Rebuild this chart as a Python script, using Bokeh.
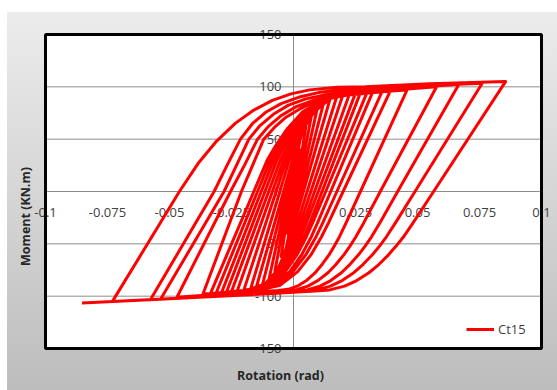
from math import pi

from bokeh.core.properties import value
from bokeh.embed import file_html
from bokeh.models import Legend, LegendItem, Range1d
from bokeh.plotting import figure
from bokeh.resources import INLINE

# Moment-rotation history of specimen Ct15, one list pair per loading cycle:
# reload towards the positive peak, then unload to the negative peak.
c01_rot = [0, 0.0012, 0.0025, 0.0003, -0.0014, -0.0019, -0.0025]
c01_mom = [0, 22, 40, 0, -30, -36, -40]

c02_rot = [-0.0003, 0.0014, 0.0017, 0.0023, 0.0030, 0.0039, 0.0050, 0.0008, -0.0012, -0.0016, -0.0022, -0.0029, -0.0039, -0.0050]
c02_mom = [0, 30, 36.6, 45, 53.4, 59.7, 62, 0, -30, -36.6, -45, -53.4, -59.7, -62]

c03_rot = [-0.0008, 0.0012, 0.0018, 0.0028, 0.0040, 0.0056, 0.0075, 0.0015, -0.0009, -0.0016, -0.0026, -0.0039, -0.0055, -0.0075]
c03_mom = [0, 30, 39.5, 51.6, 63.7, 72.7, 76, 0, -30, -39.5, -51.6, -63.7, -72.7, -76]

c04_rot = [-0.0015, 0.0009, 0.0018, 0.0032, 0.0050, 0.0073, 0.0100, 0.0022, -0.0006, -0.0015, -0.0030, -0.0048, -0.0072, -0.0100]
c04_mom = [0, 30, 41.2, 55.3, 69.5, 80.2, 84, 0, -30, -41.4, -55.8, -70.3, -81.1, -85]

c05_rot = [-0.0022, 0.0006, 0.0018, 0.0036, 0.0060, 0.0089, 0.0125, 0.0030, -0.0002, -0.0014, -0.0033, -0.0057, -0.0088, -0.0125]
c05_mom = [0, 30, 42, 57.2, 72.5, 83.9, 88, 0, -30, -42.2, -57.7, -73.2, -84.8, -89]

c06_rot = [-0.0030, 0.0002, 0.0017, 0.0039, 0.0069, 0.0106, 0.0150, 0.0040, 0.0004, -0.0011, -0.0035, -0.0065, -0.0104, -0.0150]
c06_mom = [0, 30, 42.5, 58.4, 74.3, 86.2, 90.5, 0, -30, -42.7, -58.8, -75, -87.1, -91.5]

c07_rot = [-0.0040, -0.0004, 0.0014, 0.0041, 0.0077, 0.0122, 0.0176, 0.0055, 0.0016, -0.0003, -0.0031, -0.0069, -0.0116, -0.0173]
c07_mom = [0, 30, 42.8, 59.1, 75.4, 87.6, 92, 0, -30, -43, -59.5, -76.1, -88.5, -93]

c08_rot = [-0.0055, -0.0017, 0.0005, 0.0037, 0.0081, 0.0135, 0.0200, 0.0070, 0.0028, 0.0008, -0.0021, -0.0061, -0.0110, -0.0169, -0.0200]
c08_mom = [0, 30, 43, 59.5, 76.1, 88.5, 93, 0, -30, -43.1, -59.8, -76.5, -89, -93.5, -94]

c09_rot = [-0.0070, -0.0029, -0.0004, 0.0035, 0.0086, 0.0150, 0.0226, 0.0085, 0.0040, 0.0019, -0.0013, -0.0055, -0.0108, -0.0172, -0.0227]
c09_mom = [0, 30, 43.1, 59.8, 76.5, 89, 93.5, 0, -30, -43.2, -60, -76.8, -89.5, -94, -95]

c10_rot = [-0.0085, -0.0040, -0.0014, 0.0026, 0.0079, 0.0145, 0.0224, 0.0250, 0.0100, 0.0052, 0.0030, -0.0004, -0.0049, -0.0106, -0.0173, -0.0250]
c10_mom = [0, 30, 43, 59.5, 76.1, 88.5, 93, 94, 0, -30, -43.2, -60, -76.8, -89.5, -94, -95.5]

c11_rot = [-0.0100, -0.0053, -0.0025, 0.0016, 0.0072, 0.0141, 0.0224, 0.0270, 0.0115, 0.0066, 0.0043, 0.0008, -0.0038, -0.0096, -0.0165, -0.0270]
c11_mom = [0, 30, 43, 59.5, 76.1, 88.5, 93, 94.5, 0, -30, -43.2, -60, -76.8, -89.5, -94, -96]

c12_rot = [-0.0115, -0.0067, -0.0039, 0.0004, 0.0061, 0.0133, 0.0218, 0.0297, 0.0130, 0.0077, 0.0052, 0.0015, -0.0034, -0.0096, -0.0170, -0.0290]
c12_mom = [0, 30, 43, 59.5, 76.1, 88.5, 93, 95, 0, -30, -43.2, -60, -76.8, -89.5, -94, -96.5]

c13_rot = [-0.0130, -0.0080, -0.0051, -0.0007, 0.0051, 0.0124, 0.0212, 0.0320, 0.0150, 0.0097, 0.0072, 0.0034, -0.0016, -0.0079, -0.0154, -0.0312]
c13_mom = [0, 30, 43, 59.5, 76.1, 88.5, 93, 95.5, 0, -30, -43.2, -60, -76.8, -89.5, -94, -97]

c14_rot = [-0.0145, -0.0093, -0.0063, -0.0017, 0.0044, 0.0120, 0.0211, 0.0358, 0.0175, 0.0118, 0.0091, 0.0051, -0.0003, -0.0070, -0.0150, -0.0335]
c14_mom = [0, 30, 43, 59.5, 76.1, 88.5, 93, 96, 0, -30, -43.2, -60, -76.8, -89.5, -94, -97.5]

c15_rot = [-0.0160, -0.0106, -0.0074, -0.0027, 0.0037, 0.0116, 0.0211, 0.0390, 0.0200, 0.0141, 0.0113, 0.0072, 0.0016, -0.0053, -0.0136, -0.0365]
c15_mom = [0, 30, 43, 59.5, 76.1, 87.5, 92, 96, 0, -30, -43.2, -60, -76.8, -89.5, -94, -98]

c16_rot = [-0.0210, -0.0165, -0.0120, -0.0078, -0.0030, 0.0030, 0.0100, 0.0180, 0.0280, 0.0380, 0.0458,
           0.0270, 0.0212, 0.0185, 0.0164, 0.0144, 0.0116, 0.0089, 0.0054, 0.0020, -0.0021, -0.0062, -0.0260, -0.0470]
c16_mom = [0, 25, 50, 61, 71, 79.5, 87.5, 91, 93.8, 95.8, 97,
           0, -30, -43.4, -52.3, -60.3, -69.5, -77.2, -84.7, -89.9, -93.5, -94.5, -97.5, -101]

c17_rot = [-0.0254, -0.0198, -0.0145, -0.0102, -0.0050, 0.0010, 0.0080, 0.0160, 0.0260, 0.0380, 0.0577,
           0.0350, 0.0283, 0.0251, 0.0227, 0.0203, 0.0171, 0.0139, 0.0098, 0.0058, 0.0010, -0.0038, -0.0270, -0.0536]
c17_mom = [0, 25, 50, 62, 72.5, 81, 87, 91, 94, 96.5, 100,
           0, -30, -43.5, -52.4, -60.5, -69.8, -77.6, -85.1, -90.4, -94, -95, -99, -103]

c18_rot = [-0.0280, -0.0230, -0.0180, -0.0135, -0.0080, -0.0020, 0.0050, 0.0130, 0.0230, 0.0350, 0.0480, 0.0667,
           0.0420, 0.0348, 0.0314, 0.0288, 0.0262, 0.0227, 0.0193, 0.0150, 0.0107, 0.0055, 0.0003, -0.0280, -0.0577]
c18_mom = [0, 25, 50, 63, 74, 82.5, 88.5, 92.5, 95.5, 97.7, 99.2, 102.5,
           0, -30, -43.5, -52.4, -60.5, -69.8, -77.6, -85.1, -90.4, -94, -95, -99.5, -103.5]

c19_rot = [-0.0320, -0.0268, -0.0214, -0.0165, -0.0110, -0.0050, 0.0020, 0.0100, 0.0200, 0.0320, 0.0450, 0.0761,
           0.0490, 0.0411, 0.0374, 0.0346, 0.0318, 0.0280, 0.0243, 0.0196, 0.0149, 0.0093, 0.0037, -0.0300, -0.0730]
c19_mom = [0, 25, 50, 65, 76, 84, 90, 94.5, 97.5, 99.3, 100.3, 103.5,
           0, -30, -43.5, -52.4, -60.5, -69.8, -77.6, -85.1, -90.4, -94, -95, -100, -105]

c20_rot = [-0.0460, -0.0385, -0.0310, -0.0235, -0.0160, -0.0085, -0.0010, 0.0065, 0.0178, 0.0290, 0.0550, 0.0855,
           0.0565, 0.0482, 0.0443, 0.0413, 0.0383, 0.0344, 0.0304, 0.0255, 0.0206, 0.0146, 0.0087, -0.0200, -0.0500, -0.0853]
c20_mom = [0, 26.7, 48.2, 65.1, 77.8, 87.1, 93.3, 97.1, 99.6, 100, 103, 105,
           0, -30, -43.5, -52.4, -60.5, -69.8, -77.6, -85.1, -90.4, -94, -95, -99, -102.5, -106.5]

x_ticks = [-0.1, -0.075, -0.05, -0.025, 0, 0.025, 0.05, 0.075, 0.1]
x_tick_labels = ["-0.1", "-0.075", "-0.05", "-0.025", "0", "0.025", "0.05", "0.075", "0.1"]
y_ticks = [-150, -100, -50, 0, 50, 100, 150]
y_tick_labels = ["-150", "-100", "-50", "0", "50", "100", "150"]

series_name = "Ct15"
x_title = "Rotation (rad)"
y_title = "Moment (KN.m)"

cycles = [
    (c01_rot, c01_mom), (c02_rot, c02_mom), (c03_rot, c03_mom), (c04_rot, c04_mom),
    (c05_rot, c05_mom), (c06_rot, c06_mom), (c07_rot, c07_mom), (c08_rot, c08_mom),
    (c09_rot, c09_mom), (c10_rot, c10_mom), (c11_rot, c11_mom), (c12_rot, c12_mom),
    (c13_rot, c13_mom), (c14_rot, c14_mom), (c15_rot, c15_mom), (c16_rot, c16_mom),
    (c17_rot, c17_mom), (c18_rot, c18_mom), (c19_rot, c19_mom), (c20_rot, c20_mom),
]
rotation = [r for rots, _ in cycles for r in rots]
moment = [m for _, moms in cycles for m in moms]

FONT = "Open Sans"
TICK_COLOR = "#404040"
GRID_COLOR = "#8c8c8c"

# canvas and plot-area geometry (pixels)
W, H = 557, 390
PAD_L, PAD_R, PAD_T, PAD_B = 45, 16, 34, 42

x_lo, x_hi = x_ticks[0], x_ticks[-1]
y_lo, y_hi = y_ticks[0], y_ticks[-1]
ux = (x_hi - x_lo) / (W - PAD_L - PAD_R)   # data units per pixel
uy = (y_hi - y_lo) / (H - PAD_T - PAD_B)

# The frame spans the whole canvas so that the axis labels, which straddle
# the plot-area border, are not clipped.
p = figure(
    width=W, height=H,
    output_backend="svg", toolbar_location=None,
    x_range=Range1d(x_lo - PAD_L * ux, x_hi + PAD_R * ux),
    y_range=Range1d(y_lo - PAD_B * uy, y_hi + PAD_T * uy),
    min_border=0, min_border_left=0, min_border_right=0, min_border_top=0, min_border_bottom=0,
)
p.axis.visible = False
p.grid.visible = False
p.outline_line_color = None
p.background_fill_color = None
p.border_fill_color = None
# grey gradient chart area
p.styles = {
    "background": "linear-gradient(to bottom, #ececec, #bdbdbd) 7px 12px / 550px 378px no-repeat, #ffffff",
}

# white plot area
p.quad(left=[x_lo], right=[x_hi], bottom=[y_lo], top=[y_hi], fill_color="white", line_color=None)

# horizontal gridlines and the vertical axis line through the origin
inner_y = [y for y in y_ticks if y_lo < y < y_hi]
p.segment(x0=[x_lo] * len(inner_y), x1=[x_hi] * len(inner_y), y0=inner_y, y1=inner_y,
          line_color=GRID_COLOR, line_width=1)
p.segment(x0=[0], x1=[0], y0=[y_lo], y1=[y_hi], line_color=GRID_COLOR, line_width=1)

# tick labels along the axes that cross at the origin
tick_font = dict(text_font=value(FONT), text_font_size="13px", text_color=TICK_COLOR)
p.text(x=x_ticks, y=[0] * len(x_ticks), text=x_tick_labels, y_offset=16,
       text_align="center", text_baseline="top", **tick_font)
p.text(x=[0] * len(y_ticks), y=y_ticks, text=y_tick_labels, x_offset=-12,
       text_align="right", text_baseline="middle", **tick_font)

curve = p.line(rotation, moment, line_color="#ff0000", line_width=3, line_join="round")

# plot-area border
p.quad(left=[x_lo], right=[x_hi], bottom=[y_lo], top=[y_hi], fill_color=None,
       line_color="black", line_width=3)

# axis titles
title_font = dict(text_font=value(FONT), text_font_size="12.5px", text_font_style="bold",
                  text_color="#262626", text_align="center", text_baseline="middle")
p.text(x=[x_lo + (280 - PAD_L) * ux], y=[y_lo - (375 - (H - PAD_B)) * uy], text=[x_title], **title_font)
p.text(x=[x_lo - (PAD_L - 25) * ux], y=[y_hi - (216 - PAD_T) * uy], text=[y_title], angle=pi / 2, **title_font)

legend = Legend(
    items=[LegendItem(label=series_name, renderers=[curve])],
    location=(466, 51),
    border_line_alpha=0, background_fill_alpha=0,
    padding=0, margin=0, glyph_width=28, glyph_height=20, label_standoff=4,
    label_text_font=FONT, label_text_font_size="13px", label_text_color=TICK_COLOR,
)
p.add_layout(legend)

open("out.html", "w").write(file_html(p, INLINE))
